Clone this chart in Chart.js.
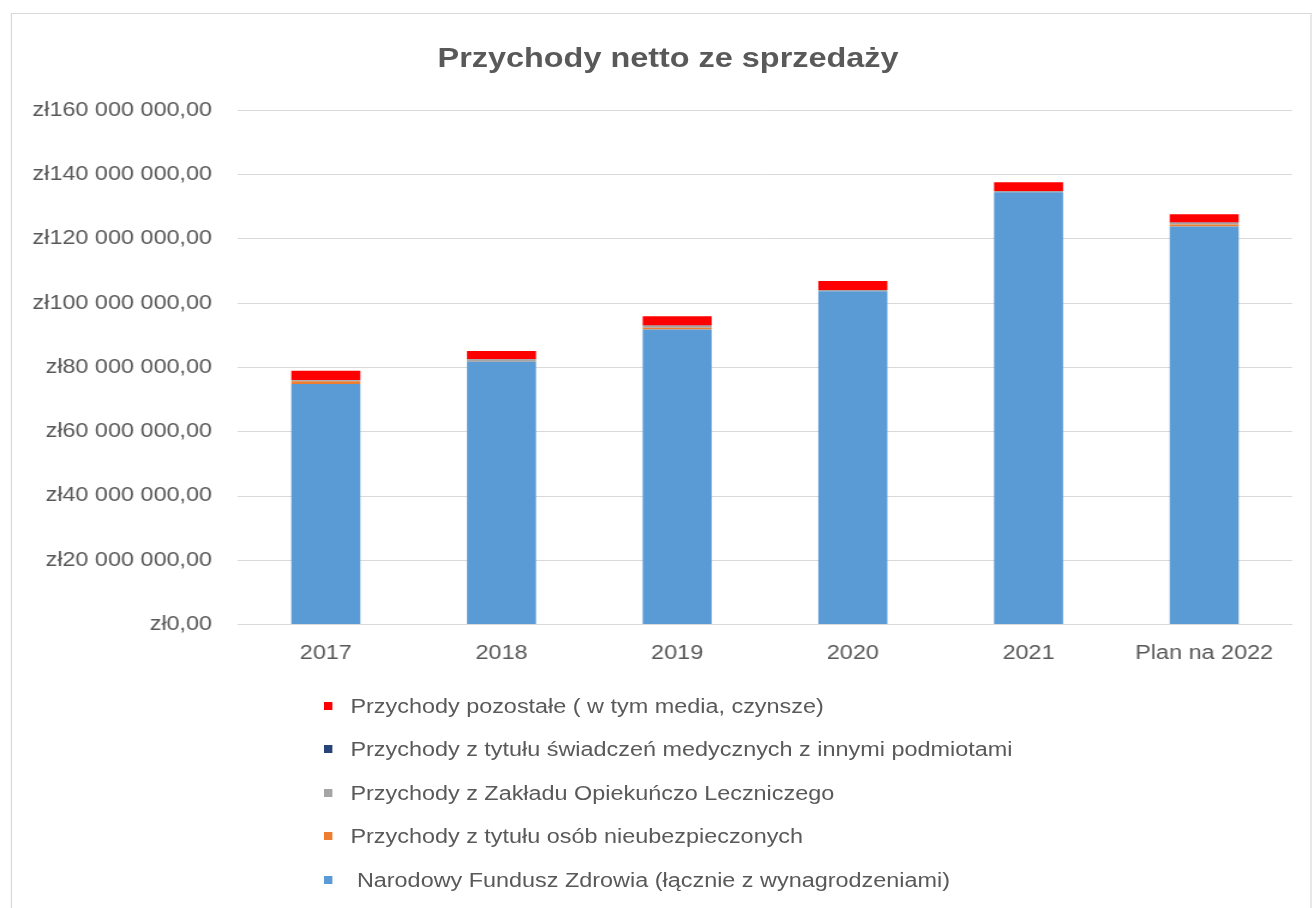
<!DOCTYPE html>
<html lang="pl">
<head>
<meta charset="utf-8">
<script src="https://cdn.jsdelivr.net/npm/chart.js@4"></script>
<style>
  html, body { margin: 0; padding: 0; background: #ffffff; overflow: hidden; }
  #stage { position: absolute; left: 0; top: 0; width: 1096px; height: 908px; transform: scaleX(1.2); transform-origin: 0 0; }
  #frame { position: absolute; left: 9px; top: 13px; width: 1084px; height: 920px; border: 1px solid #d9d9d9; box-sizing: border-box; }
  #chart { position: absolute; left: 0; top: 0; }
  #title { position: absolute; left: 0; top: 42px; width: 1113.4px; text-align: center; font-family: "Liberation Sans", Arial, sans-serif; font-weight: bold; font-size: 27px; line-height: 32.4px; color: #595959; white-space: nowrap; }
  #legend { position: absolute; left: 0; top: 0; font-family: "Liberation Sans", Arial, sans-serif; font-size: 19.5px; color: #595959; }
  .item { position: absolute; left: 270px; height: 24px; white-space: nowrap; }
  .box { position: absolute; left: 0; top: 8px; width: 7px; height: 8px; }
  .txt { position: absolute; left: 22px; top: 0; line-height: 24px; }
</style>
</head>
<body>
<div id="stage">
  <div id="frame"></div>
  <canvas id="chart" width="1096" height="908"></canvas>
  <div id="title"></div>
  <div id="legend"></div>
</div>
<script>
const chartTitle = "Przychody netto ze sprzedaży";
const categories = ["2017", "2018", "2019", "2020", "2021", "Plan na 2022"];

const nfz        = [74900000, 81900000, 91800000, 103700000, 134500000, 123900000];
const nieubezp   = [800000, 100000, 600000, 100000, 100000, 600000];
const zol        = [300000, 500000, 600000, 300000, 300000, 550000];
const inniPodm   = [100000, 50000, 50000, 50000, 50000, 50000];
const pozostale  = [2900000, 2600000, 2900000, 2800000, 2700000, 2600000];

const seriesNames = [
  " Narodowy Fundusz Zdrowia (łącznie z wynagrodzeniami)",
  "Przychody z tytułu osób nieubezpieczonych",
  "Przychody z Zakładu Opiekuńczo Leczniczego",
  "Przychody z tytułu świadczeń medycznych z innymi podmiotami",
  "Przychody pozostałe ( w tym media, czynsze)"
];
const seriesColors = ["#5B9BD5", "#ED7D31", "#A5A5A5", "#264478", "#FF0000"];

const yTicks = [0, 20000000, 40000000, 60000000, 80000000, 100000000, 120000000, 140000000, 160000000];

function formatZl(v) {
  const s = Math.round(v).toString().replace(/\B(?=(\d{3})+(?!\d))/g, " ");
  return "zł" + s + ",00";
}

const seriesValues = [nfz, nieubezp, zol, inniPodm, pozostale];
const datasets = seriesValues.map((vals, i) => ({
  label: seriesNames[i],
  data: vals,
  backgroundColor: seriesColors[i],
  borderWidth: 0,
  barPercentage: 0.393,
  categoryPercentage: 1.0,
  stack: "s"
}));

const FONT = "'Liberation Sans', Arial, sans-serif";
const TXT = "#595959";

document.getElementById("title").textContent = chartTitle;

const chart = new Chart(document.getElementById("chart"), {
  type: "bar",
  data: { labels: categories, datasets: datasets },
  options: {
    responsive: false,
    devicePixelRatio: 1,
    animation: false,
    layout: { padding: { left: 0, right: 19.3, top: 110.4, bottom: 226 } },
    plugins: {
      legend: { display: false },
      tooltip: { enabled: false },
      title: { display: false }
    },
    scales: {
      x: {
        stacked: true,
        grid: { display: false, drawTicks: false },
        border: { display: true, color: "#d9d9d9", width: 1 },
        ticks: { color: TXT, font: { family: FONT, size: 19.5 }, padding: 17, maxRotation: 0, autoSkip: false }
      },
      y: {
        stacked: true,
        min: 0,
        max: 160000000,
        afterFit: (scale) => { scale.width = 198.3; },
        afterBuildTicks: (scale) => { scale.ticks = yTicks.map(v => ({ value: v })); },
        grid: { color: "#d9d9d9", lineWidth: 1, drawTicks: false },
        border: { display: false },
        ticks: {
          color: TXT,
          font: { family: FONT, size: 19.5 },
          padding: 21.6,
          callback: (v) => formatZl(v)
        }
      }
    }
  }
});

// legend (reverse order, as in the reference), built from the chart's datasets
const legendTops = [694, 737, 781, 824, 868];
const legend = document.getElementById("legend");
const order = [4, 3, 2, 1, 0];
order.forEach((di, row) => {
  const ds = chart.data.datasets[di];
  const item = document.createElement("div");
  item.className = "item";
  item.style.top = legendTops[row] + "px";
  const box = document.createElement("div");
  box.className = "box";
  box.style.background = ds.backgroundColor;
  const t = document.createElement("div");
  t.className = "txt";
  t.textContent = ds.label;
  t.style.whiteSpace = "pre";
  item.appendChild(box);
  item.appendChild(t);
  legend.appendChild(item);
});
</script>
</body>
</html>
